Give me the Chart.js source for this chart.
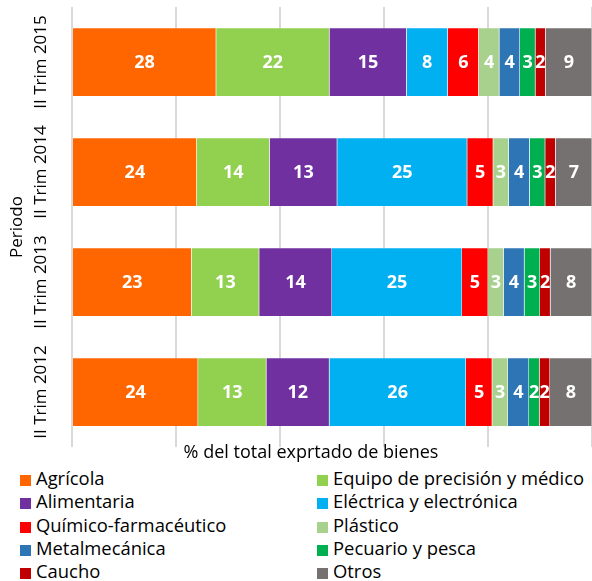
<!DOCTYPE html>
<html>
<head>
<meta charset="utf-8">
<script src="https://cdn.jsdelivr.net/npm/chart.js@4/dist/chart.umd.min.js"></script>
<style>
  body { margin: 0; background: #fff; overflow: hidden; }
  #wrap { position: relative; width: 592px; height: 465px; }
  #legend {
    position: absolute; left: 0; top: 466px; width: 592px;
    display: grid; grid-template-columns: 297px 295px;
    font-family: "Open Sans", sans-serif; font-size: 18.4px; color: #000;
  }
  #legend div { height: 23.3px; line-height: 23.3px; white-space: nowrap; padding-left: 20px; }
  #legend span { display: inline-block; width: 11px; height: 11px; margin-right: 5px; vertical-align: -1px; }
</style>
</head>
<body>
<div id="wrap"><canvas id="barChart"></canvas></div>
<div id="legend"></div>
<script>
const periodos = ['II Trim 2015', 'II Trim 2014', 'II Trim 2013', 'II Trim 2012'];

// valores en % (mismo orden que periodos)
const agricola = [28, 24, 23, 24];
const equipo = [22, 14, 13, 13];
const alimentaria = [15, 13, 14, 12];
const electrica = [8, 25, 25, 26];
const quimico = [6, 5, 5, 5];
const plastico = [4, 3, 3, 3];
const metalmecanica = [4, 4, 4, 4];
const pecuario = [3, 3, 3, 2];
const caucho = [2, 2, 2, 2];
const otros = [9, 7, 8, 8];

const series = [
    { label: 'Agrícola', data: agricola, color: '#FF6600' },
    { label: 'Equipo de precisión y médico', data: equipo, color: '#92D050' },
    { label: 'Alimentaria', data: alimentaria, color: '#7030A0' },
    { label: 'Eléctrica y electrónica', data: electrica, color: '#00B0F0' },
    { label: 'Químico-farmacéutico', data: quimico, color: '#FF0000' },
    { label: 'Plástico', data: plastico, color: '#A9D18E' },
    { label: 'Metalmecánica', data: metalmecanica, color: '#2E75B6' },
    { label: 'Pecuario y pesca', data: pecuario, color: '#00B050' },
    { label: 'Caucho', data: caucho, color: '#C00000' },
    { label: 'Otros', data: otros, color: '#767171' }
];

// barras 100% apiladas: cada periodo se normaliza a su total
const totales = periodos.map((p, i) => series.reduce((s, d) => s + d.data[i], 0));

// etiquetas de datos, periodos verticales y titulos de ejes
const textos = {
    id: 'textos',
    afterDatasetsDraw(chart) {
        const ctx = chart.ctx;
        const area = chart.chartArea;
        const y = chart.scales.y;
        ctx.save();
        ctx.fillStyle = '#fff';
        ctx.font = 'bold 18px "Open Sans", sans-serif';
        ctx.textAlign = 'center';
        ctx.textBaseline = 'middle';
        chart.data.datasets.forEach((ds, i) => {
            chart.getDatasetMeta(i).data.forEach((bar, j) => {
                const p = bar.getCenterPoint();
                ctx.fillText(String(ds.raw[j]), p.x, p.y + 1);
            });
        });

        ctx.fillStyle = '#000';
        ctx.font = '17px "Open Sans", sans-serif';
        periodos.forEach((p, i) => {
            ctx.save();
            ctx.translate(41, y.getPixelForValue(i));
            ctx.rotate(-Math.PI / 2);
            ctx.fillText(p, 0, 0);
            ctx.restore();
        });
        ctx.save();
        ctx.translate(17, (area.top + area.bottom) / 2);
        ctx.rotate(-Math.PI / 2);
        ctx.fillText('Periodo', 0, 0);
        ctx.restore();

        ctx.font = '18px "Open Sans", sans-serif';
        ctx.fillText('% del total exprtado de bienes', 311, 453);
        ctx.restore();
    }
};

const ctx = document.getElementById('barChart').getContext('2d');
const barChart = new Chart(ctx, {
    type: 'bar',
    data: {
        labels: periodos,
        datasets: series.map(s => ({
            label: s.label,
            raw: s.data,
            data: s.data.map((v, i) => v / totales[i] * 100),
            backgroundColor: s.color,
            borderColor: 'rgba(255,255,255,0.35)',
            borderWidth: 0.5,
            barPercentage: 0.625,
            categoryPercentage: 1
        }))
    },
    options: {
        indexAxis: 'y',
        responsive: true,
        maintainAspectRatio: false,
        animation: false,
        layout: { padding: { top: 7, right: 0, bottom: 18, left: 72 } },
        scales: {
            x: {
                stacked: true,
                min: 0,
                max: 100,
                ticks: { display: false, stepSize: 20 },
                grid: { color: '#d9d9d9', lineWidth: 2, drawTicks: false },
                border: { display: false }
            },
            y: {
                stacked: true,
                ticks: { display: false },
                grid: { display: false, drawTicks: false },
                border: { display: false }
            }
        },
        plugins: {
            legend: { display: false },
            tooltip: { enabled: false }
        }
    },
    plugins: [textos]
});

const legend = document.getElementById('legend');
series.forEach(s => {
    const item = document.createElement('div');
    item.innerHTML = '<span style="background:' + s.color + '"></span>' + s.label;
    legend.appendChild(item);
});
</script>
</body>
</html>
